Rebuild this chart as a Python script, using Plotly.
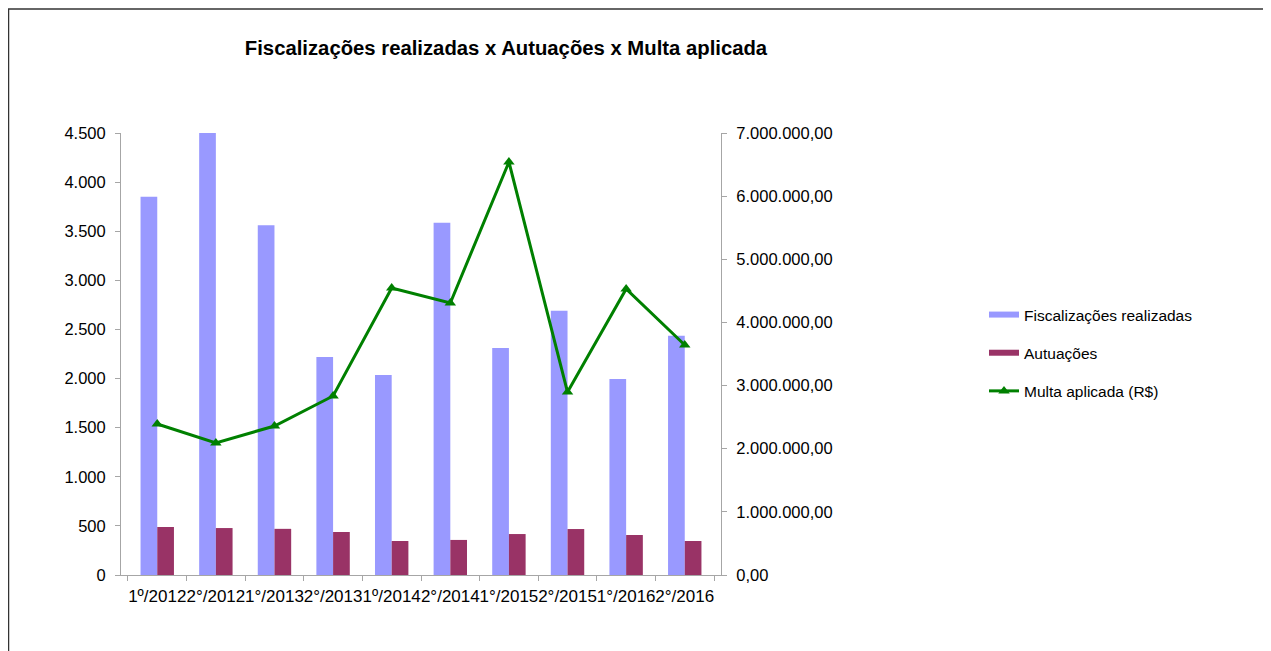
import plotly.graph_objects as go

periodos = ["1º/2012", "2°/2012", "1°/2013", "2°/2013", "1º/2014",
            "2°/2014", "1°/2015", "2°/2015", "1°/2016", "2°/2016"]
fiscalizacoes = [3850, 4500, 3560, 2220, 2035, 3585, 2310, 2690, 1995, 2435]
autuacoes = [489, 478, 470, 438, 346, 357, 417, 468, 407, 346]
multa = [2391000, 2090000, 2360000, 2835000, 4545000,
         4308000, 6541000, 2898000, 4529000, 3643000]

left_ticks = [0, 500, 1000, 1500, 2000, 2500, 3000, 3500, 4000, 4500]
right_ticks = [0, 1000000, 2000000, 3000000, 4000000, 5000000, 6000000, 7000000]

FONT = "Liberation Sans, Arial, sans-serif"
C_FISC = "#9999FF"
C_AUT = "#993366"
C_MULTA = "#008000"

# figure size in page pixels (the page body adds an 8px offset)
W, H = 1263, 643
L, T, PW, PH = 113, 125, 600, 442

fig = go.Figure()
fig.add_trace(go.Bar(x=periodos, y=fiscalizacoes, name="Fiscalizações realizadas",
                     marker=dict(color=C_FISC, line=dict(width=0)), showlegend=False))
fig.add_trace(go.Bar(x=periodos, y=autuacoes, name="Autuações",
                     marker=dict(color=C_AUT, line=dict(width=0)), showlegend=False))
fig.add_trace(go.Scatter(x=periodos, y=multa, name="Multa aplicada (R$)", yaxis="y2",
                         mode="lines+markers",
                         line=dict(color=C_MULTA, width=3),
                         marker=dict(symbol="triangle-up", size=10, color=C_MULTA),
                         legendgroup="c", showlegend=False))
# legend entries (wide flat swatches like the original)
fig.add_trace(go.Scatter(x=[None], y=[None], mode="lines", name="Fiscalizações realizadas",
                         line=dict(color=C_FISC, width=6), legendgroup="a"))
fig.add_trace(go.Scatter(x=[None], y=[None], mode="lines", name="Autuações",
                         line=dict(color=C_AUT, width=6), legendgroup="b"))
fig.add_trace(go.Scatter(x=[None], y=[None], mode="lines+markers", name="Multa aplicada (R$)",
                         line=dict(color=C_MULTA, width=3),
                         marker=dict(symbol="triangle-up", size=10, color=C_MULTA),
                         legendgroup="c"))

axis_color = "#a6a6a6"
fig.update_layout(
    width=W, height=H,
    paper_bgcolor="white", plot_bgcolor="white",
    separators=",.",
    font=dict(family=FONT, size=16, color="#000000"),
    margin=dict(l=L, r=W - L - PW, t=T, b=H - T - PH, autoexpand=False),
    barmode="group", bargap=0.43, bargroupgap=0,
    title=dict(text="<b>Fiscalizações realizadas x Autuações x Multa aplicada</b>",
               x=498 / W, xanchor="center", xref="container",
               y=1 - 40 / H, yanchor="middle", yref="container",
               font=dict(family=FONT, size=20.3, color="#000000")),
    xaxis=dict(type="category", showline=True, linecolor=axis_color, linewidth=1,
               ticks="outside", tickson="boundaries", ticklen=5, tickcolor=axis_color,
               tickangle=0, showgrid=False, tickfont=dict(size=17),
               ticklabelstandoff=6),
    yaxis=dict(range=[0, 4500], tickvals=left_ticks, tickformat=",d",
               showline=True, linecolor=axis_color, linewidth=1, showgrid=False,
               ticks="outside", ticklen=5, tickcolor=axis_color, zeroline=False,
               tickfont=dict(size=16.5), ticklabelstandoff=6),
    yaxis2=dict(range=[0, 7000000], tickvals=right_ticks, tickformat=",.2f",
                overlaying="y", side="right",
                showline=True, linecolor=axis_color, linewidth=1, showgrid=False,
                ticks="outside", ticklen=5, tickcolor=axis_color, zeroline=False,
                tickfont=dict(size=16.5), ticklabelstandoff=6),
    legend=dict(x=(976 - L) / PW, xanchor="left", y=(T + PH - 290) / PH, yanchor="top",
                traceorder="grouped", tracegroupgap=15,
                font=dict(family=FONT, size=15.5), bgcolor="rgba(0,0,0,0)"),
    showlegend=True,
)

# outer frame lines (top and left), as in the reference
px2x = lambda px: (px - L) / PW
py2y = lambda py: (T + PH - py) / PH
fig.add_shape(type="line", xref="paper", yref="paper",
              x0=px2x(0), x1=px2x(W), y0=py2y(1), y1=py2y(1),
              line=dict(color="#333333", width=1.5))
fig.add_shape(type="line", xref="paper", yref="paper",
              x0=px2x(0.5), x1=px2x(0.5), y0=py2y(1), y1=py2y(H),
              line=dict(color="#333333", width=1.5))

fig.write_html("out.html")
